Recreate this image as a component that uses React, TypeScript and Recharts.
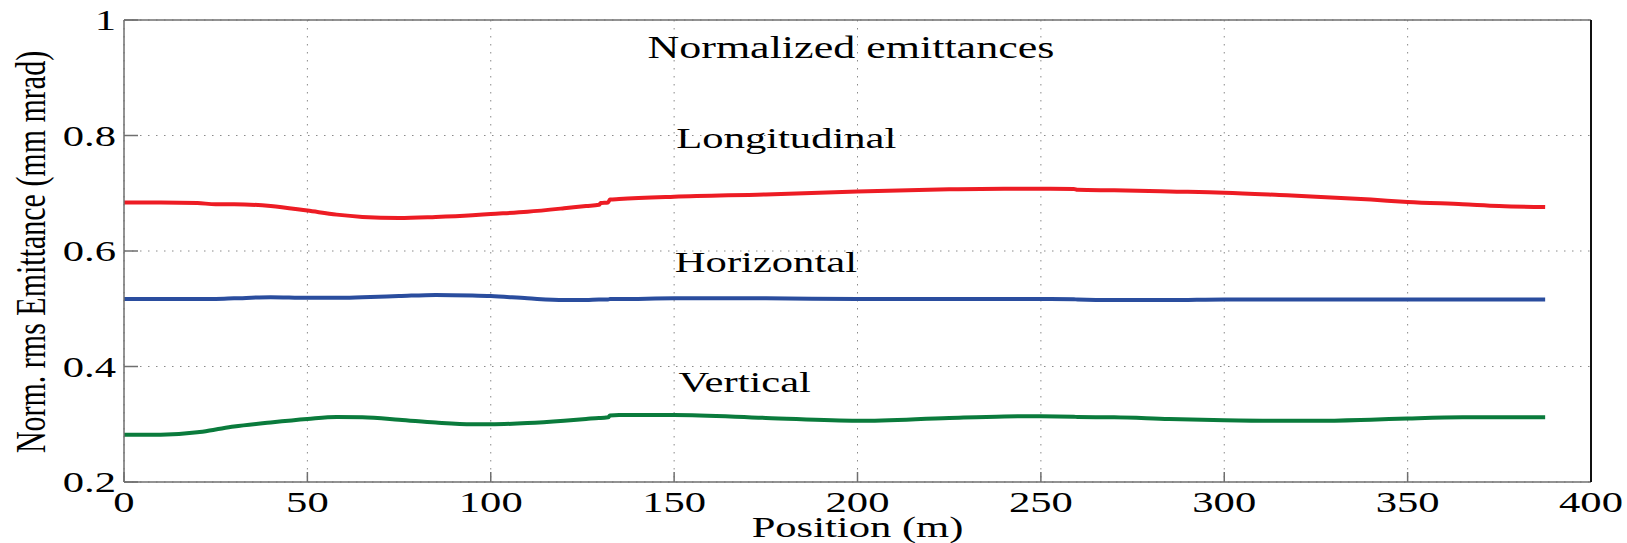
import { LineChart, Line, XAxis, YAxis, CartesianGrid, ReferenceDot } from 'recharts';

// Position along the line (m) and the normalized rms emittances (mm mrad)
const positions = [
  0, 10, 20, 25, 30, 40, 50, 58, 65, 75, 85, 95, 100, 110, 120, 126, 129.5, 130, 132, 132.5,
  135, 150, 175, 200, 225, 240, 250, 259, 260, 270, 285, 300, 315, 325, 340, 350, 365, 375, 387.5,
];
const longitudinal = [
  0.684, 0.684, 0.683, 0.681, 0.681, 0.678, 0.67, 0.663, 0.659, 0.657, 0.659, 0.662, 0.664, 0.668,
  0.674, 0.678, 0.68, 0.683, 0.684, 0.689, 0.69, 0.694, 0.698, 0.703, 0.707, 0.708, 0.708, 0.7075,
  0.706, 0.705, 0.703, 0.701, 0.697, 0.694, 0.689, 0.685, 0.681, 0.678, 0.676,
];
const horizontal = [
  0.517, 0.517, 0.517, 0.517, 0.518, 0.52, 0.519, 0.519, 0.52, 0.522, 0.524, 0.523, 0.522, 0.518,
  0.515, 0.515, 0.516, 0.516, 0.516, 0.517, 0.517, 0.518, 0.518, 0.517, 0.517, 0.517, 0.517, 0.5165,
  0.516, 0.515, 0.515, 0.516, 0.516, 0.516, 0.516, 0.516, 0.516, 0.516, 0.516,
];
const vertical = [
  0.282, 0.282, 0.286, 0.291, 0.296, 0.303, 0.309, 0.3125, 0.312, 0.308, 0.303, 0.3, 0.3, 0.302,
  0.306, 0.309, 0.311, 0.311, 0.312, 0.315, 0.316, 0.316, 0.311, 0.306, 0.311, 0.3135, 0.314, 0.313,
  0.3125, 0.312, 0.309, 0.307, 0.306, 0.306, 0.308, 0.31, 0.312, 0.312, 0.312,
];

const xTicks = [0, 50, 100, 150, 200, 250, 300, 350, 400];
const yTicks = [0.2, 0.4, 0.6, 0.8, 1];

const notes = [
  { text: 'Normalized emittances', x: 198.2, y: 0.935, anchor: 'middle', size: 31 },
  { text: 'Longitudinal', x: 150.6, y: 0.778, anchor: 'start', size: 30 },
  { text: 'Horizontal', x: 150.2, y: 0.564, anchor: 'start', size: 30 },
  { text: 'Vertical', x: 151.2, y: 0.355, anchor: 'start', size: 30 },
];

const SERIF = '"Liberation Serif", "Times New Roman", serif';
const WIDE = 1.42;
const AXIS_GRAY = '#6f6f6f';

const data = positions.map((p, i) => ({
  pos: p,
  longitudinal: longitudinal[i],
  horizontal: horizontal[i],
  vertical: vertical[i],
}));

function WideText({ x, y, anchor = 'middle', size = 30, rotate = false, children }: any) {
  const t = `translate(${x},${y}) scale(${WIDE},1)${rotate ? ' rotate(-90)' : ''}`;
  return (
    <text transform={t} x={0} y={0} textAnchor={anchor} fontFamily={SERIF} fontSize={size} fill="#000">
      {children}
    </text>
  );
}

const fmtY = (v: number) => (v === 1 ? '1' : v.toFixed(1));

const YTick = ({ y, payload }: any) => (
  <WideText x={116} y={y + 10} anchor="end" size={30}>
    {fmtY(payload.value)}
  </WideText>
);

const XTick = ({ x, payload }: any) => (
  <WideText x={x} y={512} anchor="middle" size={30}>
    {payload.value}
  </WideText>
);

export default function App() {
  return (
    <div style={{ position: 'absolute', left: 0, top: 0, background: '#fff' }}>
      <LineChart
        width={1627}
        height={543}
        data={data}
        margin={{ top: 19, right: 35, bottom: 60, left: 123 }}
      >
        <CartesianGrid stroke="#8a8a8a" strokeDasharray="1.5 6.5" strokeWidth={1} />
        <XAxis
          dataKey="pos"
          type="number"
          domain={[0, 400]}
          ticks={xTicks}
          height={1}
          stroke={AXIS_GRAY}
          strokeWidth={1.5}
          tickSize={-10}
          tick={XTick}
          label={{
            content: ({ viewBox }: any) => (
              <WideText x={viewBox.x + viewBox.width / 2} y={537} size={30}>
                Position (m)
              </WideText>
            ),
          }}
        />
        <XAxis
          xAxisId="top"
          orientation="top"
          dataKey="pos"
          type="number"
          domain={[0, 400]}
          ticks={xTicks}
          height={1}
          stroke={AXIS_GRAY}
          strokeWidth={1.5}
          tickSize={-9}
          tick={false}
        />
        <YAxis
          type="number"
          domain={[0.2, 1]}
          ticks={yTicks}
          width={1}
          stroke={AXIS_GRAY}
          strokeWidth={1.5}
          tickSize={-14}
          tick={YTick}
          label={{
            content: () => (
              <WideText x={45} y={252} size={30} rotate>
                Norm. rms Emittance (mm mrad)
              </WideText>
            ),
          }}
        />
        <YAxis
          yAxisId="right"
          orientation="right"
          type="number"
          domain={[0.2, 1]}
          ticks={yTicks}
          width={1}
          stroke="#111"
          strokeWidth={2}
          tickSize={-14}
          tick={false}
        />
        <Line
          dataKey="longitudinal"
          type="monotone"
          stroke="#ed1c24"
          strokeWidth={4}
          dot={false}
          activeDot={false}
          isAnimationActive={false}
        />
        <Line
          dataKey="horizontal"
          type="monotone"
          stroke="#2a4d9e"
          strokeWidth={4}
          dot={false}
          activeDot={false}
          isAnimationActive={false}
        />
        <Line
          dataKey="vertical"
          type="monotone"
          stroke="#0a7b3c"
          strokeWidth={4}
          dot={false}
          activeDot={false}
          isAnimationActive={false}
        />
        {notes.map((n) => (
          <ReferenceDot
            key={n.text}
            x={n.x}
            y={n.y}
            r={0}
            ifOverflow="visible"
            shape={(p: any) => (
              <WideText x={p.cx} y={p.cy} anchor={n.anchor} size={n.size}>
                {n.text}
              </WideText>
            )}
          />
        ))}
      </LineChart>
    </div>
  );
}
